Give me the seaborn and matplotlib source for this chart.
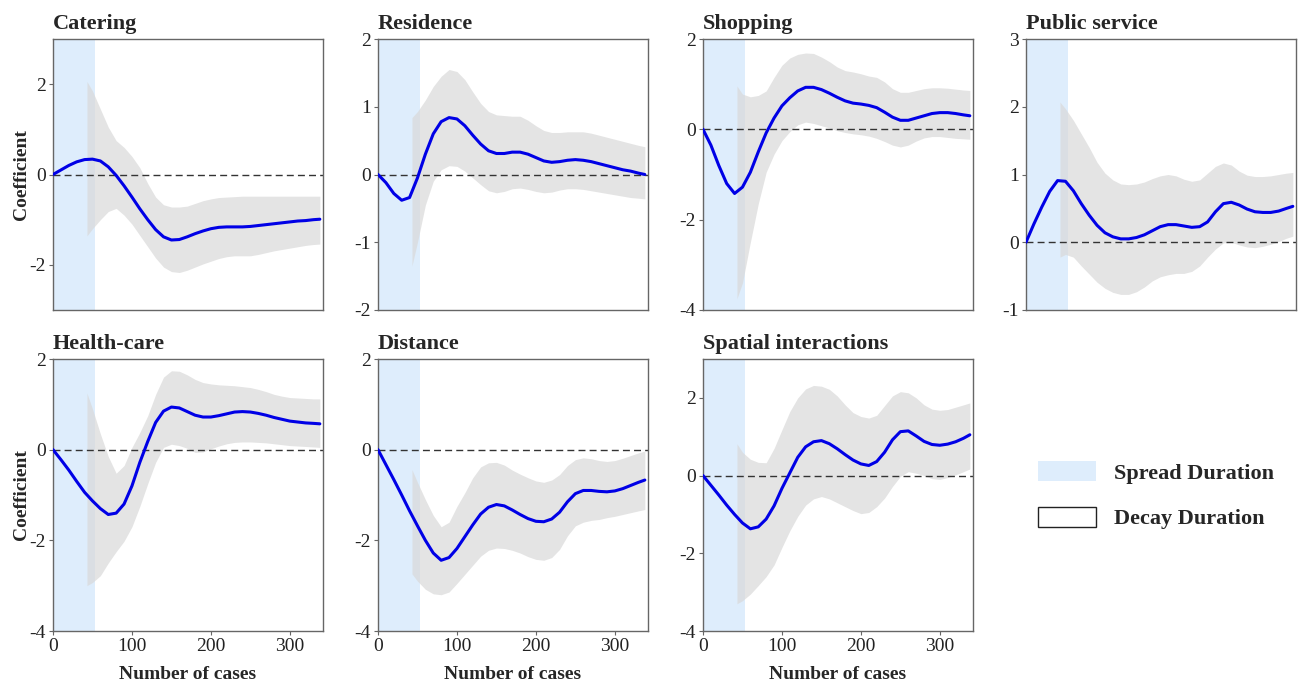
import numpy as np
import pandas as pd
import matplotlib
matplotlib.use("Agg")
import matplotlib.pyplot as plt
import seaborn as sns
from matplotlib.patches import Patch

sns.set_style("ticks")
plt.rcParams['font.family'] = ['Liberation Serif', 'DejaVu Serif']
plt.rcParams['axes.unicode_minus'] = False

# ---------------- data ----------------
x_line = [0, 10, 20, 30, 40, 50, 60, 70, 80, 90, 100, 110, 120, 130, 140, 150, 160, 170, 180, 190,
          200, 210, 220, 230, 240, 250, 260, 270, 280, 290, 300, 310, 320, 330, 338]
x_ci = [43, 50, 60, 70, 80, 90, 100, 110, 120, 130, 140, 150, 160, 170, 180, 190,
        200, 210, 220, 230, 240, 250, 260, 270, 280, 290, 300, 310, 320, 330, 338]

titles = ["Catering", "Residence", "Shopping", "Public service",
          "Health-care", "Distance", "Spatial interactions"]

catering_coef = [0, 0.1, 0.2, 0.28, 0.33, 0.34, 0.3, 0.17, -0.02, -0.25, -0.5, -0.76, -1.0, -1.22, -1.38,
                 -1.45, -1.44, -1.38, -1.31, -1.25, -1.2, -1.17, -1.16, -1.16, -1.16, -1.15, -1.13, -1.11,
                 -1.09, -1.07, -1.05, -1.03, -1.02, -1.0, -0.99]
catering_up = [2.06, 1.85, 1.45, 1.05, 0.75, 0.6, 0.4, 0.15, -0.2, -0.5, -0.67, -0.72, -0.72, -0.7, -0.64,
               -0.58, -0.54, -0.51, -0.5, -0.49, -0.48, -0.48, -0.48, -0.48, -0.48, -0.48, -0.48, -0.48,
               -0.48, -0.48, -0.48]
catering_lo = [-1.36, -1.2, -1.0, -0.82, -0.75, -0.9, -1.1, -1.35, -1.6, -1.85, -2.05, -2.15, -2.17, -2.12,
               -2.05, -1.98, -1.92, -1.86, -1.82, -1.8, -1.8, -1.8, -1.77, -1.73, -1.69, -1.66, -1.63, -1.6,
               -1.57, -1.55, -1.54]

residence_coef = [0, -0.12, -0.28, -0.38, -0.34, -0.05, 0.3, 0.6, 0.78, 0.84, 0.82, 0.72, 0.58, 0.45, 0.35,
                  0.31, 0.31, 0.33, 0.33, 0.3, 0.25, 0.2, 0.18, 0.19, 0.21, 0.22, 0.21, 0.19, 0.16, 0.13,
                  0.1, 0.07, 0.05, 0.02, 0.0]
residence_up = [0.84, 0.93, 1.1, 1.3, 1.45, 1.55, 1.52, 1.4, 1.22, 1.05, 0.93, 0.88, 0.87, 0.86, 0.86, 0.8,
                0.72, 0.65, 0.62, 0.62, 0.63, 0.63, 0.63, 0.61, 0.58, 0.55, 0.52, 0.49, 0.46, 0.43, 0.41]
residence_lo = [-1.35, -1.0, -0.45, -0.1, 0.07, 0.13, 0.12, 0.05, -0.05, -0.15, -0.24, -0.27, -0.25, -0.21,
                -0.2, -0.22, -0.25, -0.27, -0.26, -0.23, -0.21, -0.21, -0.22, -0.24, -0.26, -0.28, -0.3,
                -0.32, -0.34, -0.35, -0.36]

shopping_coef = [0, -0.35, -0.8, -1.2, -1.42, -1.28, -0.95, -0.5, -0.08, 0.25, 0.52, 0.7, 0.85, 0.93, 0.93,
                 0.88, 0.8, 0.71, 0.63, 0.58, 0.56, 0.53, 0.48, 0.38, 0.27, 0.2, 0.2, 0.25, 0.3, 0.35, 0.37,
                 0.37, 0.35, 0.32, 0.3]
shopping_up = [0.96, 0.78, 0.72, 0.75, 0.85, 1.15, 1.42, 1.58, 1.66, 1.69, 1.68, 1.6, 1.5, 1.38, 1.3, 1.27,
               1.23, 1.18, 1.15, 1.05, 0.9, 0.82, 0.82, 0.86, 0.9, 0.92, 0.92, 0.91, 0.89, 0.87, 0.86]
shopping_lo = [-3.75, -3.4, -2.5, -1.65, -0.95, -0.55, -0.25, -0.05, 0.1, 0.16, 0.13, 0.08, 0.03, -0.03,
               -0.07, -0.1, -0.12, -0.15, -0.2, -0.27, -0.35, -0.39, -0.35, -0.26, -0.19, -0.16, -0.16,
               -0.18, -0.2, -0.21, -0.22]

public_coef = [0, 0.27, 0.52, 0.75, 0.91, 0.9, 0.76, 0.57, 0.4, 0.25, 0.14, 0.08, 0.05, 0.05, 0.07, 0.11,
               0.17, 0.23, 0.26, 0.26, 0.24, 0.22, 0.23, 0.3, 0.45, 0.57, 0.59, 0.55, 0.49, 0.45, 0.44,
               0.44, 0.46, 0.5, 0.53]
public_up = [2.07, 1.97, 1.8, 1.6, 1.4, 1.18, 1.02, 0.92, 0.86, 0.85, 0.86, 0.89, 0.94, 0.98, 1.0, 0.98,
             0.93, 0.9, 0.92, 1.02, 1.12, 1.17, 1.14, 1.05, 0.99, 0.97, 0.97, 0.98, 1.0, 1.02, 1.03]
public_lo = [-0.22, -0.18, -0.22, -0.35, -0.47, -0.59, -0.68, -0.74, -0.77, -0.77, -0.73, -0.66, -0.57,
             -0.51, -0.48, -0.46, -0.46, -0.43, -0.35, -0.22, -0.1, -0.01, 0.0, -0.04, -0.07, -0.08,
             -0.06, -0.03, 0.01, 0.06, 0.09]

health_coef = [0, -0.22, -0.45, -0.7, -0.94, -1.13, -1.3, -1.43, -1.4, -1.2, -0.8, -0.28, 0.18, 0.6, 0.85,
               0.94, 0.92, 0.84, 0.76, 0.72, 0.72, 0.75, 0.79, 0.83, 0.84, 0.83, 0.8, 0.76, 0.71, 0.67,
               0.63, 0.61, 0.59, 0.58, 0.57]
health_up = [1.25, 0.9, 0.35, -0.15, -0.52, -0.35, 0.05, 0.38, 0.75, 1.22, 1.6, 1.74, 1.73, 1.65, 1.55,
             1.48, 1.45, 1.43, 1.42, 1.41, 1.39, 1.37, 1.33, 1.28, 1.22, 1.18, 1.15, 1.14, 1.13, 1.12, 1.12]
health_lo = [-3.0, -2.93, -2.78, -2.5, -2.25, -2.02, -1.7, -1.25, -0.75, -0.28, 0.05, 0.12, 0.09, 0.03,
             -0.06, -0.05, 0.02, 0.08, 0.13, 0.16, 0.17, 0.17, 0.16, 0.15, 0.13, 0.11, 0.09, 0.08, 0.07,
             0.06, 0.05]

distance_coef = [0, -0.33, -0.66, -1.0, -1.35, -1.68, -2.0, -2.28, -2.44, -2.38, -2.18, -1.92, -1.66, -1.42,
                 -1.27, -1.21, -1.24, -1.33, -1.43, -1.52, -1.58, -1.59, -1.53, -1.38, -1.15, -0.97, -0.9,
                 -0.9, -0.92, -0.93, -0.91, -0.86, -0.79, -0.72, -0.67]
distance_up = [-0.44, -0.72, -1.1, -1.45, -1.7, -1.6, -1.25, -0.95, -0.62, -0.38, -0.29, -0.28, -0.34,
               -0.45, -0.54, -0.62, -0.69, -0.72, -0.67, -0.55, -0.35, -0.22, -0.18, -0.2, -0.24, -0.26,
               -0.24, -0.19, -0.13, -0.07, -0.03]
distance_lo = [-2.74, -2.9, -3.08, -3.18, -3.2, -3.14, -2.95, -2.75, -2.55, -2.35, -2.22, -2.17, -2.18,
               -2.22, -2.28, -2.36, -2.42, -2.44, -2.38, -2.2, -1.9, -1.68, -1.6, -1.56, -1.54, -1.5, -1.47,
               -1.43, -1.39, -1.35, -1.32]

spatial_coef = [0, -0.25, -0.5, -0.76, -1.0, -1.22, -1.37, -1.32, -1.12, -0.78, -0.33, 0.07, 0.47, 0.74,
                0.87, 0.9, 0.82, 0.69, 0.54, 0.4, 0.3, 0.26, 0.36, 0.6, 0.92, 1.13, 1.15, 1.02, 0.88, 0.8,
                0.78, 0.81, 0.87, 0.96, 1.05]
spatial_up = [0.82, 0.6, 0.42, 0.34, 0.33, 0.7, 1.18, 1.65, 2.0, 2.23, 2.32, 2.3, 2.22, 2.05, 1.82, 1.62,
              1.52, 1.48, 1.55, 1.8, 2.05, 2.16, 2.13, 2.0, 1.82, 1.71, 1.68, 1.7, 1.76, 1.82, 1.87]
spatial_lo = [-3.3, -3.22, -3.05, -2.83, -2.6, -2.3, -1.85, -1.42, -1.05, -0.76, -0.6, -0.54, -0.6, -0.7,
              -0.8, -0.9, -0.98, -0.95, -0.8, -0.58, -0.28, -0.02, 0.1, 0.06, 0.0, -0.08, -0.1, -0.05,
              0.02, 0.1, 0.17]

coefs = [catering_coef, residence_coef, shopping_coef, public_coef, health_coef, distance_coef, spatial_coef]
uppers = [catering_up, residence_up, shopping_up, public_up, health_up, distance_up, spatial_up]
lowers = [catering_lo, residence_lo, shopping_lo, public_lo, health_lo, distance_lo, spatial_lo]

ylims = [(-3, 3), (-2, 2), (-4, 2), (-1, 3), (-4, 2), (-4, 2), (-4, 3)]
yticks = [[-2, 0, 2], [-2, -1, 0, 1, 2], [-4, -2, 0, 2], [-1, 0, 1, 2, 3],
          [-4, -2, 0, 2], [-4, -2, 0, 2], [-4, -2, 0, 2]]
xticks = [0, 100, 200, 300]
spread_end = 53
x_max = 342

legend_labels = ["Spread Duration", "Decay Duration"]

# ---------------- layout ----------------
W, H = 1298, 681
fig = plt.figure(figsize=(W / 100, H / 100), dpi=100)

col_px = [(53, 323), (378, 648), (703, 973), (1026, 1296)]
row_px = [(39, 310), (359, 631)]

spread_color = "#deedfc"
band_color = "#d9d9d9"
line_color = "#0000e6"
spine_color = "#666666"

for i, title in enumerate(titles):
    r, c = divmod(i, 4)
    l, rr = col_px[c]
    t, b = row_px[r]
    ax = fig.add_axes([l / W, 1 - b / H, (rr - l) / W, (b - t) / H])

    ax.axvspan(0, spread_end, color=spread_color, lw=0, zorder=0)
    ax.fill_between(x_ci, lowers[i], uppers[i], color=band_color, alpha=0.7, lw=0, zorder=1)
    ax.axhline(0, color="#333333", lw=1.0, ls=(0, (5, 3)), zorder=2)
    df = pd.DataFrame({"x": x_line, "y": coefs[i]})
    sns.lineplot(data=df, x="x", y="y", ax=ax, color=line_color, lw=2.2, zorder=3)

    ax.set_xlim(0, x_max)
    ax.set_ylim(*ylims[i])
    ax.set_yticks(yticks[i])
    ax.set_xticks(xticks)
    ax.set_title(title, loc="left", fontsize=16, fontweight="bold", pad=7)

    for s in ax.spines.values():
        s.set_color(spine_color)
        s.set_linewidth(1.0)
    ax.tick_params(axis="both", direction="out", length=3, width=0.8, color=spine_color,
                   labelsize=14, labelcolor="#222222", pad=2)

    if r == 1:
        ax.set_xlabel("Number of cases", fontsize=14, fontweight="bold", labelpad=8)
    else:
        ax.set_xlabel("")
        ax.tick_params(axis="x", length=0, labelbottom=False)
    if c == 0:
        ax.set_ylabel("Coefficient", fontsize=14, fontweight="bold", labelpad=0)
    else:
        ax.set_ylabel("")

handles = [Patch(facecolor=spread_color, edgecolor="none"),
           Patch(facecolor="white", edgecolor="#222222", linewidth=1.0)]
fig.legend(handles, legend_labels, loc="upper left",
           bbox_to_anchor=(1018 / W, 1 - 441 / H),
           frameon=False, prop={"family": "Liberation Serif", "weight": "bold", "size": 16},
           handlelength=2.6, handleheight=1.0, labelspacing=1.05, handletextpad=0.8)

fig.savefig("out.png", dpi=100)
